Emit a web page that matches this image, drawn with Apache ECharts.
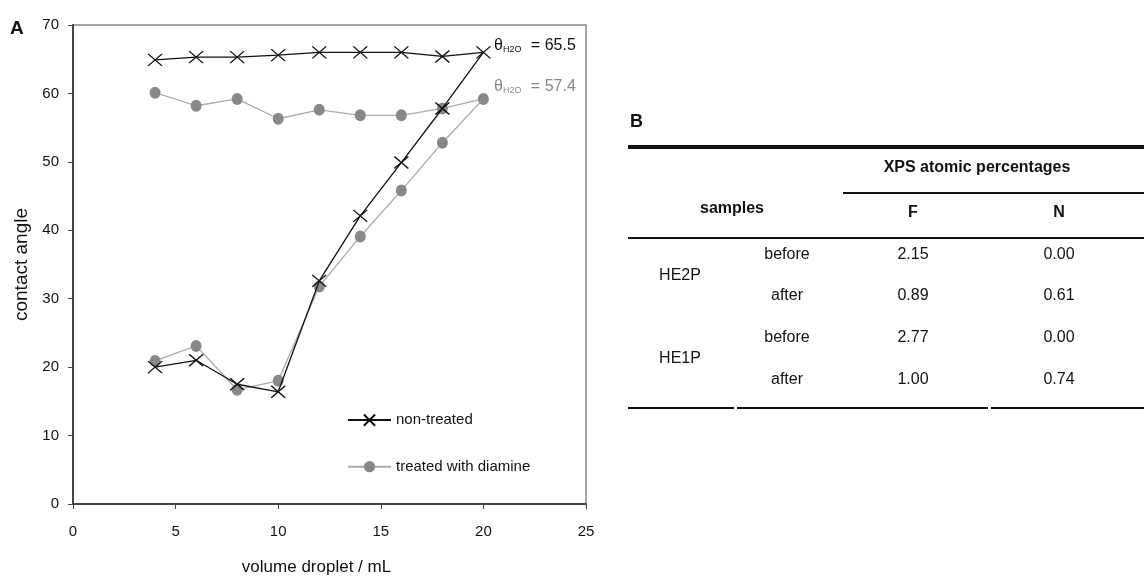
<!DOCTYPE html>
<html>
<head>
<meta charset="utf-8">
<script src="https://cdn.jsdelivr.net/npm/echarts@6/dist/echarts.min.js"></script>
<style>
  html, body { margin: 0; padding: 0; background: #fff; }
  #chart { width: 1144px; height: 578px; }
</style>
</head>
<body>
<div id="chart"></div>
<script>
// loop: advancing 4 -> 20, then receding 20 -> 4
const volumes = [4, 6, 8, 10, 12, 14, 16, 18, 20, 18, 16, 14, 12, 10, 8, 6, 4];
const nonTreated = [20, 21, 17.5, 16.4, 32.6, 42.1, 49.9, 57.8, 66, 65.4, 66, 66, 66, 65.6, 65.3, 65.3, 64.9];
const treated = [20.9, 23.1, 16.7, 18, 31.8, 39.1, 45.8, 52.8, 59.2, 57.8, 56.8, 56.8, 57.6, 56.3, 59.2, 58.2, 60.1];
const thetaValues = ["65.5", "57.4"];

// table B
const sampleNames = ["HE2P", "HE1P"];
const sampleStates = ["before", "after", "before", "after"];
const fPercent = ["2.15", "0.89", "2.77", "1.00"];
const nPercent = ["0.00", "0.61", "0.00", "0.74"];

const sans = "'Liberation Sans', Arial, sans-serif";

const chart = echarts.init(document.getElementById("chart"));

const crossPath = "path://M0,0L10,10M10,0L0,10";

const toPairs = (ys) => volumes.map((v, i) => [v, ys[i]]);

// table graphics
const tableGraphic = [];
const txt = (x, y, text, opts) => ({
  type: "text",
  x: x,
  y: y,
  style: Object.assign({
    text: text,
    font: "16px " + sans,
    fill: "#111",
    textAlign: "center",
    textVerticalAlign: "middle",
  }, opts || {}),
});
const hline = (x1, x2, y, w) => ({
  type: "line",
  shape: { x1: x1, y1: y, x2: x2, y2: y },
  style: { stroke: "#111", lineWidth: w },
});

tableGraphic.push(txt(630, 122, "B", { font: "bold 18px " + sans, textAlign: "left" }));
tableGraphic.push(hline(628, 1144, 147, 4));
tableGraphic.push(txt(977, 168, "XPS atomic percentages", { font: "bold 16px " + sans }));
tableGraphic.push(hline(843, 1144, 193, 2));
tableGraphic.push(txt(732, 209, "samples", { font: "bold 16px " + sans }));
tableGraphic.push(txt(913, 213, "F", { font: "bold 16px " + sans }));
tableGraphic.push(txt(1059, 213, "N", { font: "bold 16px " + sans }));
tableGraphic.push(hline(628, 1144, 238, 2));
const rowY = [255, 296, 338, 380];
sampleNames.forEach((name, i) => {
  tableGraphic.push(txt(680, (rowY[i * 2] + rowY[i * 2 + 1]) / 2, name));
});
sampleStates.forEach((s, i) => {
  tableGraphic.push(txt(787, rowY[i], s));
  tableGraphic.push(txt(913, rowY[i], fPercent[i]));
  tableGraphic.push(txt(1059, rowY[i], nPercent[i]));
});
tableGraphic.push(hline(628, 734, 408, 2));
tableGraphic.push(hline(737, 988, 408, 2));
tableGraphic.push(hline(991, 1144, 408, 2));

const thetaLabel = (y, value, color) => ({
  type: "text",
  x: 494,
  y: y,
  style: {
    text: "θ{sub|H2O} = " + value,
    font: "16px " + sans,
    fill: color,
    textVerticalAlign: "middle",
    rich: { sub: { fontSize: 9, fontFamily: sans, fill: color, verticalAlign: "bottom", padding: [0, 5, 0, 0] } },
  },
});

const option = {
  animation: false,
  backgroundColor: "#fff",
  textStyle: { fontFamily: sans },
  grid: {
    left: 73,
    right: 558,
    top: 25,
    bottom: 74,
    show: true,
    borderColor: "#888",
    borderWidth: 1.5,
    containLabel: false,
    outerBoundsMode: "none",
  },
  xAxis: {
    type: "value",
    min: 0,
    max: 25,
    interval: 5,
    name: "volume droplet / mL",
    nameLocation: "middle",
    nameGap: 55,
    nameTextStyle: { fontFamily: sans, fontSize: 17, color: "#111", padding: [0, 26, 0, 0] },
    axisLine: { lineStyle: { color: "#444", width: 2 } },
    axisTick: { show: true, length: 5, lineStyle: { color: "#444" } },
    axisLabel: { fontFamily: sans, fontSize: 15, color: "#111", margin: 20 },
    splitLine: { show: false },
  },
  yAxis: {
    type: "value",
    min: 0,
    max: 70,
    interval: 10,
    name: "contact angle",
    nameLocation: "middle",
    nameGap: 42,
    nameTextStyle: { fontFamily: sans, fontSize: 19, color: "#111" },
    axisLine: { show: true, lineStyle: { color: "#444", width: 2 } },
    axisTick: { show: true, length: 5, lineStyle: { color: "#444" } },
    axisLabel: { fontFamily: sans, fontSize: 15, color: "#111", margin: 14 },
    splitLine: { show: false },
  },
  legend: {
    orient: "vertical",
    left: 347,
    top: 412,
    padding: 0,
    itemGap: 31,
    itemWidth: 43,
    itemHeight: 14,
    textStyle: { fontFamily: sans, fontSize: 15, color: "#111", lineHeight: 14 },
    data: ["non-treated", "treated with diamine"],
  },
  series: [
    {
      name: "treated with diamine",
      type: "line",
      data: toPairs(treated),
      symbol: "circle",
      symbolSize: [11, 12],
      itemStyle: { color: "#888" },
      lineStyle: { color: "#aaa", width: 1.3 },
      z: 2,
    },
    {
      name: "non-treated",
      type: "line",
      data: toPairs(nonTreated),
      symbol: crossPath,
      symbolSize: [14, 12],
      itemStyle: { color: "none", borderColor: "#111", borderWidth: 1.3 },
      lineStyle: { color: "#111", width: 1.3 },
      z: 3,
    },
  ],
  graphic: [
    thetaLabel(46, thetaValues[0], "#111"),
    thetaLabel(87, thetaValues[1], "#888"),
    {
      type: "text",
      x: 10,
      y: 19,
      style: { text: "A", font: "bold 19px " + sans, fill: "#111" },
    },
  ].concat(tableGraphic),
};

chart.setOption(option);
window.addEventListener("resize", () => {
  chart?.resize();
});
</script>
</body>
</html>
